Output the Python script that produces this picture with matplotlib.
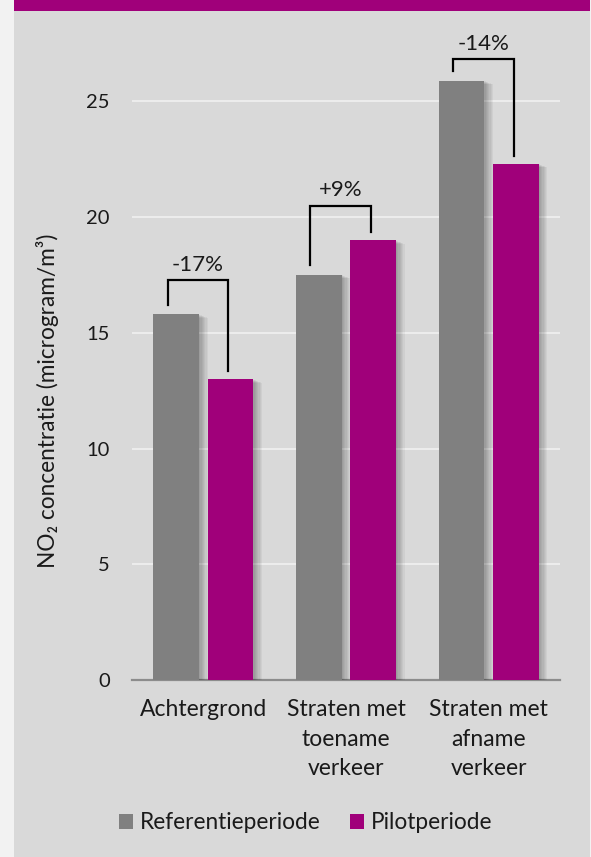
import numpy as np
import matplotlib
matplotlib.use('Agg')
import matplotlib.pyplot as plt
import matplotlib.patheffects as pe
from matplotlib.patches import Rectangle, Patch

# data
categories = ['Achtergrond', 'Straten met\ntoename\nverkeer', 'Straten met\nafname\nverkeer']
referentie = [15.8, 17.5, 25.9]
pilot = [13.0, 19.0, 22.3]
changes = ['-17%', '+9%', '-14%']
bracket_top = [17.3, 20.5, 26.85]
yticks = [0, 5, 10, 15, 20, 25]

grey = '#808080'
purple = '#A0007A'
panel_bg = '#D9D9D9'

plt.rcParams['font.family'] = ['Lato', 'DejaVu Sans']

fig = plt.figure(figsize=(5.91, 8.57), dpi=100)
fig.patch.set_facecolor('#F2F2F2')

# grey panel and the purple band at the top
fig.patches.append(Rectangle((14 / 591, 0), 576 / 591, 1, transform=fig.transFigure,
                             facecolor=panel_bg, edgecolor='none', zorder=-2))
fig.patches.append(Rectangle((14 / 591, 1 - 11 / 857), 576 / 591, 11 / 857, transform=fig.transFigure,
                             facecolor=purple, edgecolor='none', zorder=-1))

ax = fig.add_axes([132 / 591, 177 / 857, 428 / 591, 648 / 857])
ax.set_facecolor('none')
ax.set_zorder(1)

x = np.arange(len(categories))
width = 0.32
off = 0.19

# soft shadow: stack of faint offset copies
shadow = [pe.SimplePatchShadow(offset=(i * 0.9, -i * 0.35), shadow_rgbFace='k', alpha=0.045)
          for i in range(1, 8)] + [pe.Normal()]

b1 = ax.bar(x - off, referentie, width, color=grey, zorder=3)
b2 = ax.bar(x + off, pilot, width, color=purple, zorder=3)
for b in list(b1) + list(b2):
    b.set_path_effects(shadow)

# brackets with percentage change
for i in range(len(categories)):
    xl = x[i] - off - 0.06
    xr = x[i] + off - 0.015
    top = bracket_top[i]
    ax.plot([xl, xl, xr, xr], [referentie[i] + 0.42, top, top, pilot[i] + 0.35],
            color='k', lw=1.6, solid_joinstyle='miter', zorder=4, clip_on=False)
    ax.text((xl + xr) / 2, top + 0.22, changes[i], ha='center', va='bottom',
            fontsize=16, color='#1a1a1a', zorder=4)

ax.set_xlim(-0.5, 2.5)
ax.set_ylim(0, 28)
ax.set_yticks(yticks)
ax.set_xticks(x)
ax.set_xticklabels(categories, fontsize=16.5, linespacing=1.5)
ax.tick_params(axis='y', length=0, pad=16, labelsize=14.5, labelcolor='#1a1a1a')
ax.tick_params(axis='x', length=0, pad=14, labelcolor='#1a1a1a')

ax.grid(axis='y', color='#F0F0F0', lw=1.2, zorder=1)
ax.set_axisbelow(True)
for s in ['top', 'right', 'left']:
    ax.spines[s].set_visible(False)
ax.spines['bottom'].set_color('#8C8C8C')
ax.spines['bottom'].set_linewidth(1.6)
ax.spines['bottom'].set_zorder(2)

fig.text(48 / 591, 1 - 401 / 857, 'NO₂ concentratie (microgram/m³)', rotation=90,
         ha='center', va='center', fontsize=16.3, color='#1a1a1a')

handles = [Patch(facecolor=grey), Patch(facecolor=purple)]
fig.legend(handles=handles, labels=['Referentieperiode', 'Pilotperiode'], loc='center',
           bbox_to_anchor=(306 / 591, 1 - 822.7 / 857), ncol=2, frameon=False,
           fontsize=16.3, handlelength=0.62, handleheight=0.62, handletextpad=0.3,
           columnspacing=1.3, labelcolor='#1a1a1a')

plt.savefig('out.png', dpi=100, facecolor=fig.get_facecolor())
